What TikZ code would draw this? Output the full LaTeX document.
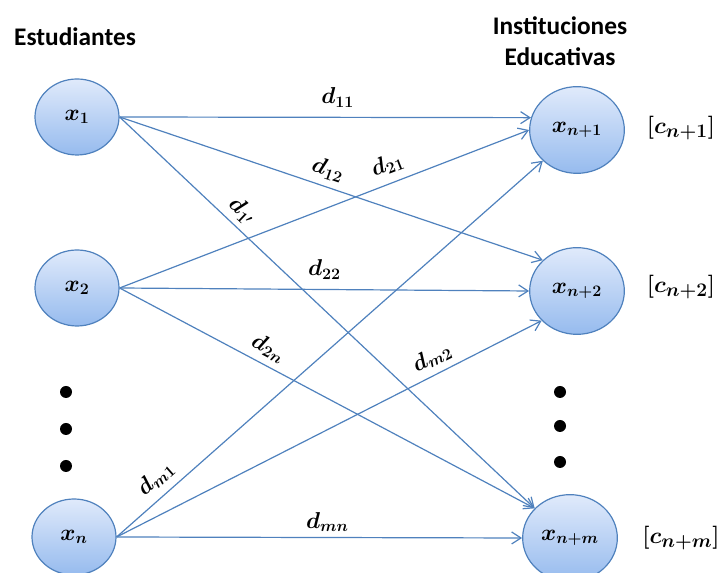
\documentclass[tikz,border=0pt]{standalone}
\usepackage{amsmath,bm}
\usepackage{fontspec}
\setsansfont{Carlito}
\usetikzlibrary{positioning,arrows.meta,shapes.geometric}
\definecolor{instblue}{RGB}{79,129,189}
\definecolor{nodetop}{RGB}{224,234,251}
\definecolor{nodebottom}{RGB}{150,187,238}

\begin{document}
\begin{tikzpicture}[
    x=0.75pt, y=0.75pt,
    student/.style={ellipse, draw=instblue, line width=0.9pt, top color=nodetop, bottom color=nodebottom, minimum width=63pt, minimum height=57pt, inner sep=0pt, font=\fontsize{17}{19}\selectfont\boldmath},
    school/.style={student, minimum width=71pt, minimum height=65pt},
    rel/.style={-{Straight Barb[length=7pt, width=9pt]}, draw=instblue, line width=0.9pt},
    lab/.style={font=\fontsize{18}{20}\selectfont\boldmath, sloped, above=8pt, inner sep=1pt},
    capac/.style={font=\fontsize{19}{21}\selectfont\boldmath},
    head/.style={font=\sffamily\bfseries\fontsize{19}{23}\selectfont, align=center},
    dotmark/.style={circle, fill=black, minimum size=9pt, inner sep=0pt}
  ]
    \useasboundingbox (0,0) rectangle (724,573);

    \node[head] (stud) at (75,536) {Estudiantes};
    \node[head] (inst) at (560,532) {Instituciones\\Educativas};

    \node[student] (x1) at (77,456) {$x_1$};
    \node[student] (x2) at (77,285) {$x_2$};
    \node[student] (xn) at (74,36) {$x_n$};

    \node[school] (xn1) at (577,443) {$x_{n+1}$};
    \node[school] (xn2) at (577,282) {$x_{n+2}$};
    \node[school] (xnm) at (570,35) {$x_{n+m}$};

    \node[capac] (c1) at (681,445) {$[c_{n+1}]$};
    \node[capac] (c2) at (681,286) {$[c_{n+2}]$};
    \node[capac] (cm) at (681,35) {$[c_{n+m}]$};

    \foreach \y [count=\i] in {181,144,107} {
      \node[dotmark] (ldot\i) at (66,\y) {};
    }
    \foreach \y [count=\i] in {181,147,111} {
      \node[dotmark] (rdot\i) at (560,\y) {};
    }

    \draw[rel] (x1.east) -- node[lab, pos=0.53, above=6pt] {$d_{11}$} (xn1.165);
    \draw[rel] (x1.east) -- node[lab, pos=0.48, above=4pt] {$d_{12}$} (xn2.138);
    \draw[rel] (x1.east) -- node[lab, pos=0.27, above=3pt] {$d_{1'}$} (xnm.140);

    \draw[rel] (x2.east) -- node[lab, pos=0.67, above=5pt] {$d_{21}$} (xn1.180);
    \draw[rel] (x2.east) -- node[lab, pos=0.5, above=6pt] {$d_{22}$} (xn2.180);
    \draw[rel] (x2.east) -- node[lab, pos=0.34, above=4pt] {$d_{2n}$} (xnm.140);

    \draw[rel] (xn.east) -- node[lab, pos=0.12, above=5pt] {$d_{m1}$} (xn1.222);
    \draw[rel] (xn.east) -- node[lab, pos=0.76, above=4pt] {$d_{m2}$} (xn2.220);
    \draw[rel] (xn.east) -- node[lab, pos=0.52, above=3pt] {$d_{mn}$} (xnm.180);
  \end{tikzpicture}
\end{document}
